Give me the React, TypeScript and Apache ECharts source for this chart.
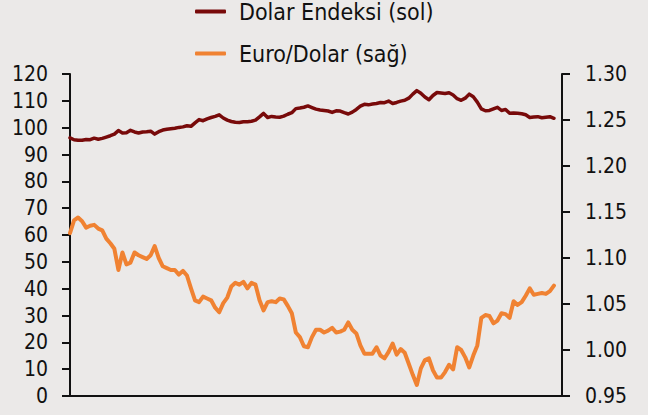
import React, { useEffect, useRef } from "react";
import * as echarts from "echarts";

const seriesNames = ["Dolar Endeksi (sol)", "Euro/Dolar (sağ)"];

const dolarEndeksi = [
  96.2, 95.5, 95.3, 95.3, 95.6, 95.5, 96.1, 95.7, 96.0, 96.5,
  97.0, 97.6, 98.9, 98.0, 98.1, 99.0, 98.4, 98.0, 98.4, 98.5,
  98.7, 97.6, 98.5, 99.1, 99.4, 99.6, 99.8, 100.1, 100.3, 100.7,
  100.5, 101.8, 103.0, 102.6, 103.3, 103.8, 104.2, 104.8, 103.6, 102.8,
  102.3, 102.0, 101.9, 102.2, 102.2, 102.4, 102.8, 104.0, 105.3, 103.8,
  104.2, 104.0, 103.9, 104.3, 105.0, 105.6, 107.1, 107.3, 107.6, 108.1,
  107.5, 106.9, 106.6, 106.4, 106.2, 105.7, 106.3, 106.2, 105.6, 105.1,
  105.8, 106.8, 108.0, 108.7, 108.5, 108.8, 109.0, 109.4, 109.3, 109.9,
  109.0, 109.4, 109.9, 110.2, 111.0, 112.5, 113.8, 112.8, 111.4, 110.4,
  112.0, 113.1, 112.9, 112.7, 113.0, 112.2, 110.8, 110.2, 111.0, 112.5,
  111.5, 109.5, 107.0, 106.3, 106.4, 107.0, 107.6, 106.4, 106.8, 105.4,
  105.5, 105.4, 105.2, 104.8, 103.8, 104.0, 104.1, 103.7, 103.9, 104.1,
  103.5,
];

const euroDolar = [
  1.127, 1.141, 1.144, 1.140, 1.133, 1.135, 1.136, 1.132, 1.130, 1.121,
  1.116, 1.110, 1.087, 1.106, 1.093, 1.095, 1.106, 1.103, 1.101, 1.099,
  1.103, 1.113, 1.100, 1.091, 1.089, 1.087, 1.087, 1.082, 1.086, 1.081,
  1.067, 1.054, 1.052, 1.058, 1.056, 1.054, 1.046, 1.041, 1.051, 1.057,
  1.069, 1.073, 1.071, 1.074, 1.067, 1.073, 1.071, 1.054, 1.043, 1.052,
  1.053, 1.052, 1.056, 1.055, 1.048, 1.040, 1.019, 1.014, 1.004, 1.003,
  1.014, 1.022, 1.022, 1.019, 1.021, 1.024, 1.019, 1.020, 1.022, 1.030,
  1.022, 1.018, 1.005, 0.996, 0.996, 0.996, 1.003, 0.994, 0.991, 0.998,
  1.007, 0.995, 1.001, 0.997, 0.985, 0.973, 0.962, 0.980, 0.989, 0.991,
  0.978, 0.970, 0.970, 0.976, 0.984, 0.979, 1.003, 1.000, 0.992, 0.981,
  0.994, 1.005, 1.035, 1.038, 1.037, 1.029, 1.032, 1.040, 1.039, 1.035,
  1.053, 1.049, 1.052, 1.059, 1.067, 1.060, 1.061, 1.062, 1.061, 1.064,
  1.070,
];

const categoryCount = 123;
const categories = Array.from({ length: categoryCount }, (_, i) => String(i + 1));

const leftTicks = { min: 0, max: 120, interval: 10 };
const rightTicks = { min: 0.95, max: 1.3, interval: 0.05 };

const FONT = "'DejaVu Sans Condensed', 'DejaVu Sans', sans-serif";
const TEXT = "#111111";
const AXIS = "#111111";
const C_DXY = "#780a0a";
const C_EUR = "#f08232";

export default function App() {
  const ref = useRef<HTMLDivElement>(null);

  useEffect(() => {
    if (!ref.current) return;
    const chart = echarts.init(ref.current, null, { renderer: "svg" });
    chart.setOption({
      animation: false,
      backgroundColor: "#ebe9e8",
      textStyle: { fontFamily: FONT },
      legend: {
        orient: "vertical",
        left: 195,
        top: 0,
        padding: 0,
        itemGap: 19,
        itemWidth: 31,
        itemHeight: 4,
        icon: "roundRect",
        textStyle: {
          fontFamily: FONT,
          fontSize: 23,
          lineHeight: 20,
          color: TEXT,
          padding: [0, 0, 0, 8],
        },
        data: seriesNames,
      },
      grid: { left: 70, right: 86, top: 74, bottom: 19, containLabel: false },
      xAxis: {
        type: "category",
        data: categories,
        boundaryGap: false,
        axisLine: { show: true, lineStyle: { color: AXIS, width: 2 } },
        axisTick: { show: false },
        axisLabel: { show: false },
        splitLine: { show: false },
      },
      yAxis: [
        {
          type: "value",
          position: "left",
          min: leftTicks.min,
          max: leftTicks.max,
          interval: leftTicks.interval,
          axisLine: { show: true, lineStyle: { color: AXIS, width: 2 } },
          axisTick: { show: true, inside: false, length: 8, lineStyle: { color: AXIS, width: 2 } },
          axisLabel: { fontFamily: FONT, fontSize: 21, color: TEXT, margin: 22 },
          splitLine: { show: false },
        },
        {
          type: "value",
          position: "right",
          min: rightTicks.min,
          max: rightTicks.max,
          interval: rightTicks.interval,
          axisLine: { show: true, lineStyle: { color: AXIS, width: 2 } },
          axisTick: { show: true, inside: false, length: 8, lineStyle: { color: AXIS, width: 2 } },
          axisLabel: {
            fontFamily: FONT,
            fontSize: 21,
            color: TEXT,
            margin: 23,
            formatter: (v: number) => v.toFixed(2),
          },
          splitLine: { show: false },
        },
      ],
      series: [
        {
          name: seriesNames[0],
          type: "line",
          yAxisIndex: 0,
          data: dolarEndeksi,
          showSymbol: false,
          symbol: "none",
          lineStyle: { color: C_DXY, width: 3.5, cap: "round", join: "round" },
          itemStyle: { color: C_DXY },
          z: 3,
        },
        {
          name: seriesNames[1],
          type: "line",
          yAxisIndex: 1,
          data: euroDolar,
          showSymbol: false,
          symbol: "none",
          lineStyle: { color: C_EUR, width: 4, cap: "round", join: "round" },
          itemStyle: { color: C_EUR },
          z: 2,
        },
      ],
    });
    return () => chart.dispose();
  }, []);

  return (
    <div
      ref={ref}
      style={{ position: "fixed", left: 0, top: 0, width: 648, height: 415 }}
    />
  );
}
